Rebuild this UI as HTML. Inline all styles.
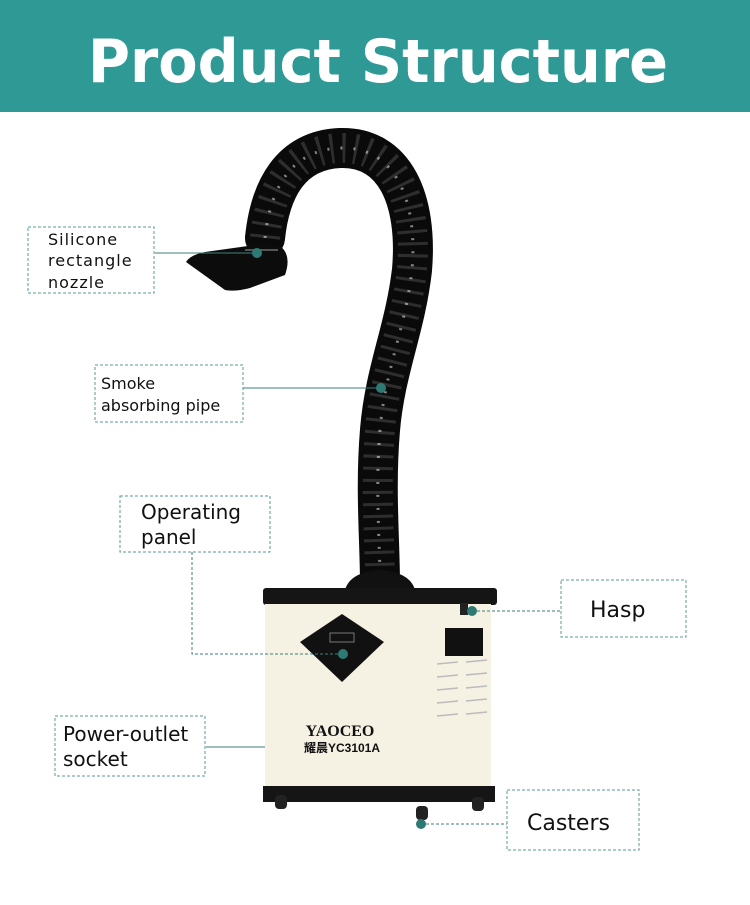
<!DOCTYPE html>
<html><head><meta charset="utf-8"><style>
body{margin:0;width:750px;height:900px;background:#fff;overflow:hidden;font-family:"Liberation Sans","DejaVu Sans",sans-serif}
</style></head><body>
<svg width="750" height="900" viewBox="0 0 750 900" xmlns="http://www.w3.org/2000/svg">
<rect x="0" y="0" width="750" height="112" fill="#2f9a95"/>
<text x="88" y="82" font-family="DejaVu Sans, Liberation Sans, sans-serif" font-weight="bold" font-size="60" fill="#fff" textLength="580" lengthAdjust="spacingAndGlyphs">Product  Structure</text>

<!-- pipe -->
<path d="M265 238 C270 190 290 150 340 148 C395 146 418 200 412 270 C405 330 385 370 380 430 C375 490 380 540 380 585" fill="none" stroke="#0a0a0a" stroke-width="40" stroke-linecap="round"/>
<path d="M265 238 C270 190 290 150 340 148 C395 146 418 200 412 270 C405 330 385 370 380 430 C375 490 380 540 380 585" fill="none" stroke="#2e2e2e" stroke-width="30" stroke-dasharray="3 9"/>
<path d="M265 238 C270 190 290 150 340 148 C395 146 418 200 412 270 C405 330 385 370 380 430 C375 490 380 540 380 585" fill="none" stroke="#fff" stroke-width="3" stroke-dasharray="2 11" opacity="0.5"/>
<!-- nozzle -->
<path d="M186 262 Q190 255 205 252 L255 245 L280 246 Q292 255 285 275 L250 288 Q235 292 225 290 Z" fill="#0c0c0c"/>
<path d="M245 250 L278 250" stroke="#555" stroke-width="2"/>
<!-- pipe base -->
<path d="M345 590 Q350 572 380 570 Q410 572 415 590 Z" fill="#111"/>

<!-- box -->
<rect x="263" y="588" width="234" height="17" rx="3" fill="#151515"/>
<rect x="265" y="604" width="226" height="184" fill="#f5f2e4"/>
<rect x="263" y="786" width="232" height="16" fill="#151515"/>
<rect x="275" y="795" width="12" height="14" rx="4" fill="#222"/>
<rect x="472" y="797" width="12" height="14" rx="4" fill="#222"/>
<rect x="416" y="806" width="12" height="14" rx="4" fill="#222"/>
<polygon points="342,614 384,642 342,682 300,642" fill="#111"/>
<rect x="330" y="633" width="24" height="9" fill="none" stroke="#777" stroke-width="1"/>
<rect x="445" y="628" width="38" height="28" fill="#111"/>
<g stroke="#bbb" stroke-width="1.5">
<line x1="437" y1="664" x2="458" y2="662"/><line x1="466" y1="662" x2="487" y2="660"/>
<line x1="437" y1="677" x2="458" y2="675"/><line x1="466" y1="675" x2="487" y2="673"/>
<line x1="437" y1="690" x2="458" y2="688"/><line x1="466" y1="688" x2="487" y2="686"/>
<line x1="437" y1="703" x2="458" y2="701"/><line x1="466" y1="701" x2="487" y2="699"/>
<line x1="437" y1="716" x2="458" y2="714"/><line x1="466" y1="714" x2="487" y2="712"/>
</g>
<rect x="460" y="603" width="8" height="12" fill="#222"/>
<text x="340" y="736" text-anchor="middle" font-family="Liberation Serif, serif" font-weight="bold" font-size="16" fill="#111">YAOCEO</text>
<text x="342" y="752" text-anchor="middle" font-family="Liberation Sans, Noto Sans CJK SC, sans-serif" font-weight="bold" font-size="12" fill="#111">耀晨YC3101A</text>

<!-- connectors -->
<g stroke="#3f7f7b" stroke-width="1" fill="none">
<line x1="155" y1="253" x2="257" y2="253"/>
<line x1="243" y1="388" x2="381" y2="388"/>
<polyline points="192,552 192,654 343,654" stroke-dasharray="3 2"/>
<line x1="206" y1="747" x2="265" y2="747"/>
<line x1="472" y1="611" x2="561" y2="611" stroke-dasharray="3 2"/>
<line x1="421" y1="824" x2="507" y2="824" stroke-dasharray="3 2"/>
</g>
<g fill="#2d7a74">
<circle cx="257" cy="253" r="5"/><circle cx="381" cy="388" r="5"/><circle cx="343" cy="654" r="5"/>
<circle cx="472" cy="611" r="5"/><circle cx="421" cy="824" r="5"/>
</g>

<!-- label boxes -->
<g fill="none" stroke="#5a9a96" stroke-width="1" stroke-dasharray="3 2">
<rect x="28" y="227" width="126" height="66"/>
<rect x="95" y="365" width="148" height="57"/>
<rect x="120" y="496" width="150" height="56"/>
<rect x="55" y="716" width="150" height="60"/>
<rect x="561" y="580" width="125" height="57"/>
<rect x="507" y="790" width="132" height="60"/>
</g>
<g font-family="DejaVu Sans, Liberation Sans, sans-serif" fill="#111">
<text font-size="16" x="48" y="245" letter-spacing="1">Silicone</text>
<text font-size="16" x="48" y="266" letter-spacing="1">rectangle</text>
<text font-size="16" x="48" y="288" letter-spacing="1">nozzle</text>
<text font-size="16" x="101" y="389">Smoke</text>
<text font-size="16" x="101" y="411">absorbing  pipe</text>
<text font-size="20" x="141" y="519">Operating</text>
<text font-size="20" x="141" y="544">panel</text>
<text font-size="20" x="63" y="741">Power-outlet</text>
<text font-size="20" x="63" y="766">socket</text>
<text font-size="22" x="590" y="617">Hasp</text>
<text font-size="22" x="527" y="830">Casters</text>
</g>
</svg>
</body></html>
